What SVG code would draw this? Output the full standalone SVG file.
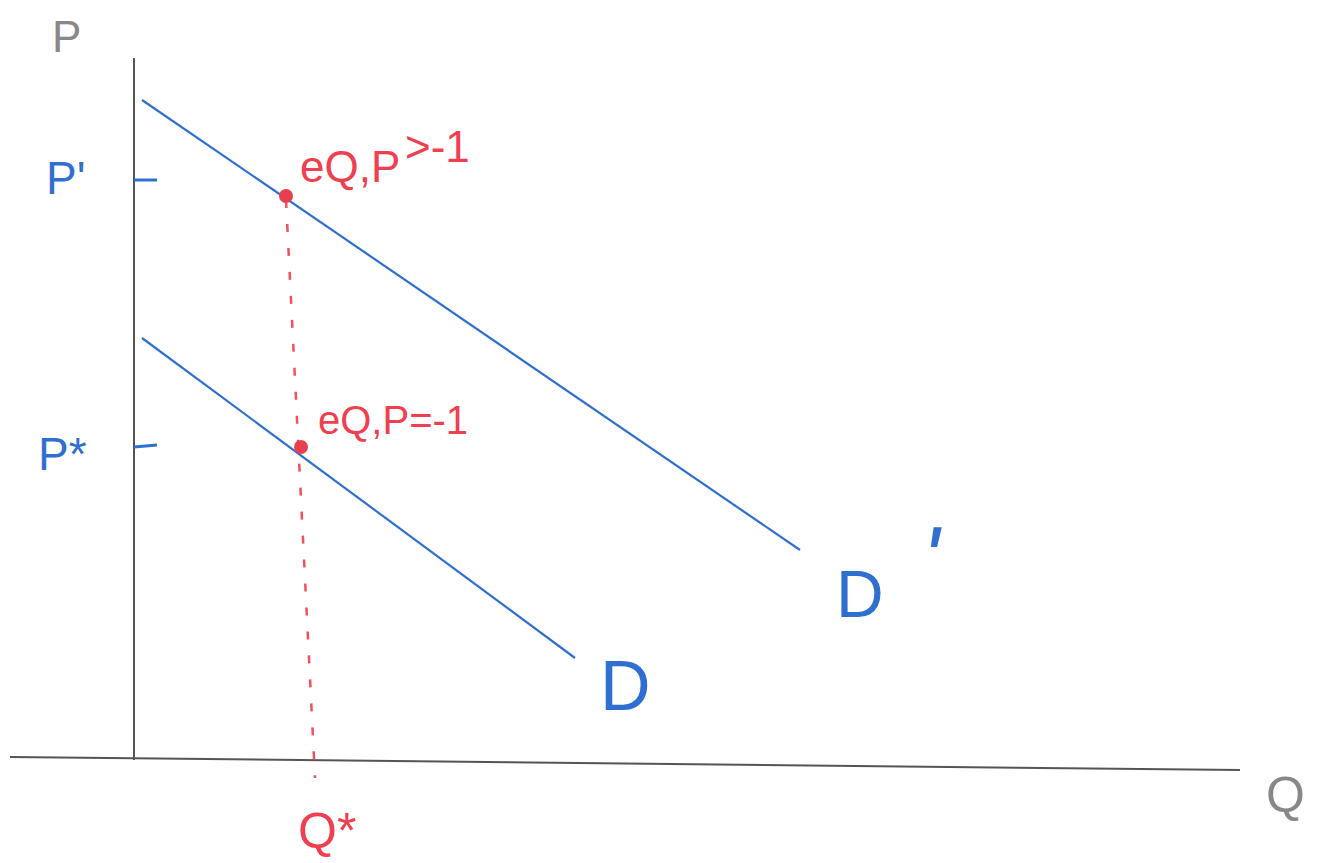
<svg xmlns="http://www.w3.org/2000/svg" width="1323" height="863" viewBox="0 0 1323 863">
<style>
.axis{stroke:#555;stroke-width:2;fill:none}
.blue{stroke:#2f6fcf;stroke-width:2.2;fill:none}
.tick{stroke:#2f6fcf;stroke-width:3;fill:none}
.reddash{stroke:#f0505f;stroke-width:2.5;fill:none;stroke-dasharray:8 16}
.bl{fill:#2f6fcf;font-family:"Liberation Sans",sans-serif}
.rd{fill:#f04050;font-family:"Liberation Sans",sans-serif}
.gr{fill:#888;font-family:"Liberation Sans",sans-serif}
</style>
<rect width="1323" height="863" fill="#fff"/>
<g id="axes">
<line class="axis" x1="134" y1="58" x2="134" y2="760"/>
<line class="axis" x1="10" y1="757" x2="1240" y2="770"/>
<line class="tick" x1="134" y1="180" x2="157" y2="180"/>
<line class="tick" x1="134" y1="447" x2="157" y2="445"/>
</g>
<g id="connectors">
<line class="blue" x1="142" y1="100" x2="800" y2="550"/>
<line class="blue" x1="142" y1="338" x2="575" y2="658"/>
<line class="reddash" x1="286" y1="200" x2="315" y2="778"/>
</g>
<g id="points">
<circle cx="286" cy="196" r="7" fill="#e84050"/>
<circle cx="301" cy="447" r="7" fill="#e84050"/>
</g>
<g id="labels">
<text class="gr" x="52" y="52" font-size="44">P</text>
<text class="bl" x="46" y="194" font-size="46">P'</text>
<text class="bl" x="38" y="470" font-size="46">P*</text>
<text class="rd" x="300" y="182" font-size="44">eQ,P</text>
<text class="rd" x="405" y="162" font-size="44">&gt;-1</text>
<text class="rd" x="318" y="434" font-size="40">eQ,P=-1</text>
<text class="bl" x="836" y="617" font-size="66">D</text>
<text class="bl" x="922" y="590" font-size="90" font-style="italic">'</text>
<text class="bl" x="600" y="710" font-size="70">D</text>
<text class="rd" x="298" y="848" font-size="50">Q*</text>
<text class="gr" x="1266" y="812" font-size="50">Q</text>
</g>
</svg>
